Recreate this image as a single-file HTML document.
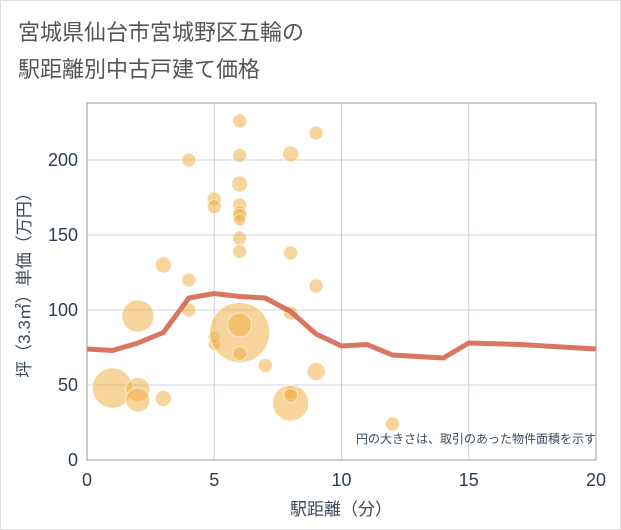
<!DOCTYPE html>
<html><head><meta charset="utf-8"><style>
body{margin:0;background:#fff;}
svg{display:block;font-family:"Liberation Sans","Noto Sans CJK JP",sans-serif;}
</style></head><body>
<svg id="c" width="621" height="530">
<rect x="0.5" y="0.5" width="620" height="529" fill="#fff" stroke="#ddd"/>
<text x="18" y="40" font-size="22" fill="#555">宮城県仙台市宮城野区五輪の</text>
<text x="18" y="77" font-size="22" fill="#555">駅距離別中古戸建て価格</text>
<g id="grid"></g>
<g id="bubbles"></g>
<g id="line"></g>
<g id="axes"></g>
<text x="596" y="443" font-size="12" fill="#3c4a5a" text-anchor="end">円の大きさは、取引のあった物件面積を示す</text>
<text x="341" y="515" font-size="17" fill="#3c4a5a" text-anchor="middle">駅距離（分）</text>
<text transform="translate(30,281) rotate(-90)" font-size="17" fill="#3c4a5a" text-anchor="middle">坪（3.3㎡）単価（万円）</text>
</svg>
<script>
const xTicks=[0,5,10,15,20];
const yTicks=[0,50,100,150,200];
const bubbleX=[1,2,2,2,3,3,4,4,4,5,5,5,5,6,6,6,6,6,6,6,6,6,6,6,6,7,8,8,8,8,8,8,9,9,9,12];
const bubbleY=[48,47,40,96,41,130,200,120,100,174,169,82,77,226,203,184,170,165,163,160,148,139,85,90,71,63,204,138,98,38,45,43,218,116,59,24];
const bubbleR=[20,12,12,16,8,8,7,7,7,7,7,6,6,7,7,8,7,7,7,6,7,7,30,12,7,7,8,7,7,18,7,7,7,7,9,7];
const lineX=[0,1,2,3,4,5,6,7,8,9,10,11,12,13,14,15,16,17,18,19,20];
const lineY=[74,73,78,85,108,111,109,108,99,84,76,77,70,69,68,78,77.5,77,76,75,74];
const L=87,R=596,T=103,B=460;
const sx=v=>L+(v-0)/20*(R-L);
const sy=v=>B-v/200*(B-160);
const NS='http://www.w3.org/2000/svg';
function mk(tag,attrs,parent){const e=document.createElementNS(NS,tag);for(const k in attrs)e.setAttribute(k,attrs[k]);document.getElementById(parent).appendChild(e);return e;}
xTicks.forEach(t=>{
 if(t>0&&t<20){const g=mk('line',{x1:sx(t),x2:sx(t),y1:T,y2:B,stroke:'#c9d4e2','stroke-width':1},'grid');
 
 }
 const tx=mk('text',{x:sx(t),y:B+26,'font-size':18,fill:'#2f3e4e','text-anchor':'middle'},'axes');tx.textContent=t;
 
 
});
yTicks.forEach(t=>{
 if(t>0){const g=mk('line',{x1:L,x2:R,y1:sy(t),y2:sy(t),stroke:'#c9d4e2','stroke-width':1},'grid');
 
 }
 const tx=mk('text',{x:L-9,y:sy(t)+6,'font-size':18,fill:'#2f3e4e','text-anchor':'end'},'axes');tx.textContent=t;
 
 
});
const fr=mk('rect',{x:L,y:T,width:R-L,height:B-T,fill:'none',stroke:'#999','stroke-width':1},'axes');


bubbleX.forEach((x,i)=>{
 const c=mk('circle',{cx:sx(x),cy:sy(bubbleY[i]),r:bubbleR[i],fill:'#f0b048','fill-opacity':0.55,stroke:'#fff','stroke-opacity':0.6,'stroke-width':1},'bubbles');
 
 
});
const p=mk('polyline',{points:lineX.map((x,i)=>sx(x)+','+sy(lineY[i])).join(' '),fill:'none',stroke:'#d4674f','stroke-width':5,'stroke-linejoin':'round','stroke-opacity':0.9},'line');


</script>
</body></html>
